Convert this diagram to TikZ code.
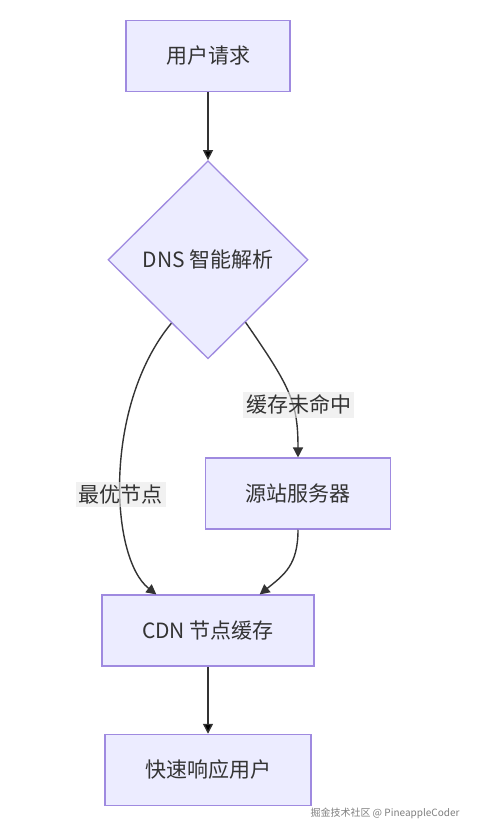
\documentclass[tikz,border=0pt]{standalone}
\usepackage{fontspec}
\setmainfont{Noto Sans CJK SC}
\usepackage{xcolor}
\usepackage{tikz}
\usetikzlibrary{shapes.geometric, positioning, arrows.meta}

\definecolor{boxfill}{HTML}{ECECFF}
\definecolor{boxline}{HTML}{9F8AE0}
\definecolor{edgeline}{HTML}{333333}
\definecolor{lblfill}{HTML}{E8E8E8}

\begin{document}
\begin{tikzpicture}[x=1pt, y=1pt,
    every node/.style={text=edgeline, font=\fontsize{21}{25}\selectfont},
    box/.style={draw=boxline, fill=boxfill, line width=1.3pt, rectangle,
        minimum height=71pt, inner xsep=40pt},
    decision/.style={draw=boxline, fill=boxfill, line width=1.3pt, diamond,
        aspect=1, minimum width=200pt, minimum height=198pt, inner sep=0pt},
    lbl/.style={fill=lblfill, fill opacity=0.6, text opacity=1,
        inner xsep=3pt, inner ysep=3pt},
    flow/.style={draw=edgeline, line width=1.4pt,
        -{Triangle[length=10pt, width=10pt]}}]

        \useasboundingbox[fill=white] (0,0) rectangle (476,-834);

        \node[box] (req) at (208,-56) {用户请求};
        \node[decision] (dns) [below=68pt of req] {DNS 智能解析};
        \node[box] (src) [below=98pt of dns, xshift=90pt] {源站服务器};
        \node[box] (cdn) [below=235pt of dns] {CDN 节点缓存};
        \node[box] (fast) [below=67pt of cdn] {快速响应用户};

        \node[text=gray, font=\fontsize{10}{12}\selectfont, anchor=east]
            (wm) at (463,-813) {掘金技术社区 @ PineappleCoder};

        \path[flow]
        (req) edge (dns)
        (cdn) edge (fast);

        \draw[flow] (dns.-120) .. controls +(-68,-82) and +(-47,37) ..
            node[lbl, pos=0.56] (best) {最优节点} (cdn.145);
        \draw[flow] (dns.-59) .. controls +(45,-65) and +(0,55) ..
            node[lbl, pos=0.6, xshift=6pt] (miss) {缓存未命中} (src.north);
        \draw[flow] (src.south) .. controls +(0,-35) and +(25,20) .. (cdn.35);

    \end{tikzpicture}
\end{document}
